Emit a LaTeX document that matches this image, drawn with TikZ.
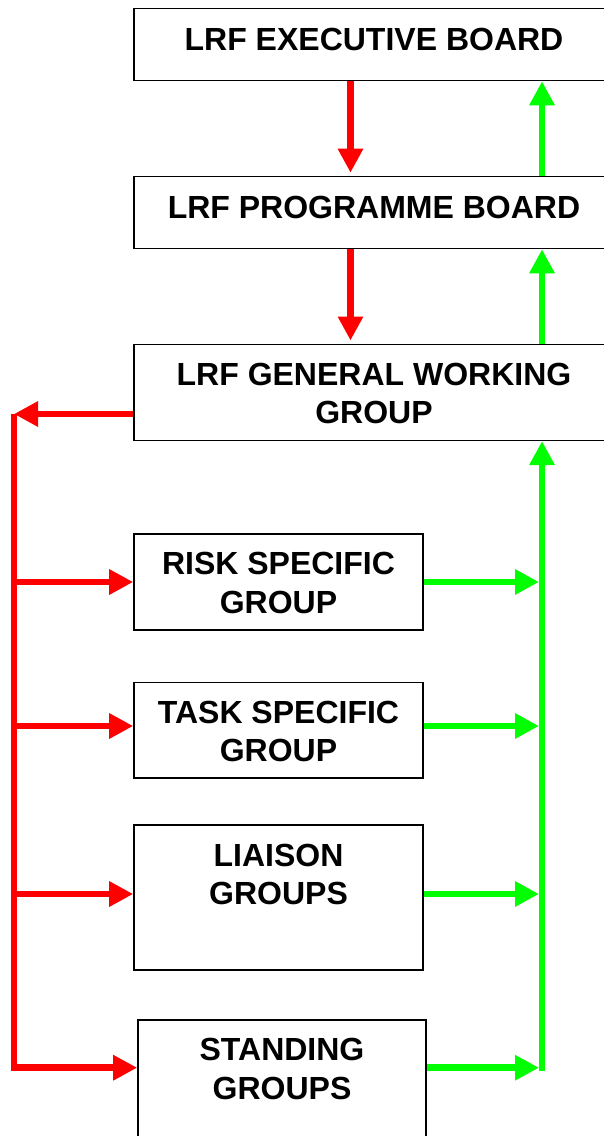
\documentclass[tikz,border=0pt]{standalone}
\usepackage{fontspec}
\setmainfont{Liberation Sans}
\usepackage{tikz}
\usetikzlibrary{arrows.meta, positioning}
\definecolor{downred}{RGB}{255,0,0}
\definecolor{upgreen}{RGB}{0,255,0}
\tikzset{>={Triangle[length=24pt,width=24pt]}}
\tikzset{
	box/.style={draw, line width=1.6pt, inner sep=0pt},
	txt/.style={font=\bfseries\fontsize{32}{38.5}\selectfont, align=center, inner sep=0pt},
	down/.style={color=downred, line width=6.5pt},
	up/.style={color=upgreen, line width=6.5pt}
}

\begin{document}
\begin{tikzpicture}[x=1pt, y=-1pt]

		\useasboundingbox (0,0) rectangle (604,1136);
		\clip (0,0) rectangle (604,1136);

		\node[box, minimum width=480pt, minimum height=72pt] (EB) at (374,44.5) {};
		\node[box, minimum width=480pt, minimum height=72pt] (PB) at (374,212.5) {};
		\node[box, minimum width=480pt, minimum height=96pt] (GW) at (374,392.3) {};
		\node[box, minimum width=289pt, minimum height=96pt] (RS) at (278.5,582) {};
		\node[box, minimum width=289pt, minimum height=95.4pt] (TS) at (278.5,730) {};
		\node[box, minimum width=289pt, minimum height=144.7pt] (LG) at (278.5,897.6) {};
		\node[box, minimum width=288pt, minimum height=140pt] (SG) at (282,1090) {};

		\node[txt, below=20pt of EB.north] (EBt) {LRF EXECUTIVE BOARD};
		\node[txt, below=20pt of PB.north] (PBt) {LRF PROGRAMME BOARD};
		\node[txt, below=19pt of GW.north] (GWt) {LRF GENERAL WORKING\\GROUP};
		\node[txt, below=19pt of RS.north] (RSt) {RISK SPECIFIC\\GROUP};
		\node[txt, below=19pt of TS.north] (TSt) {TASK SPECIFIC\\GROUP};
		\node[txt, below=19pt of LG.north] (LGt) {LIAISON\\GROUPS};
		\node[txt, below=19pt of SG.north] (SGt) {STANDING\\GROUPS};

		\draw [down, ->, shorten >=3pt] ([xshift=-23.5pt]EB.south) -- ([xshift=-23.5pt]PB.north);
		\draw [up, ->] ([xshift=168pt]PB.north) -- ([xshift=168pt]EB.south);
		\draw [down, ->, shorten >=3pt] ([xshift=-23.5pt]PB.south) -- ([xshift=-23.5pt]GW.north);
		\draw [up, ->] ([xshift=168pt]GW.north) -- ([xshift=168pt]PB.south);

		\coordinate (RB) at (14,414);
		\coordinate (RE) at (14,1071);
		\coordinate (R1) at (14,582);
		\coordinate (R2) at (14,726);
		\coordinate (R3) at (14,894);
		\coordinate (R4) at (14,1067.7);
		\coordinate (GE) at (542,1071);
		\coordinate (G1) at (542,582);
		\coordinate (G2) at (542,726);
		\coordinate (G3) at (542,894);
		\coordinate (G4) at (542,1067.7);

		\draw [down, ->] (GW.west |- RB) -- (RB);
		\draw [down] (RB) -- (RE);
		\draw [down, ->] (R1) -- (R1 -| RS.west);
		\draw [down, ->] (R2) -- (R2 -| TS.west);
		\draw [down, ->] (R3) -- (R3 -| LG.west);
		\draw [down, ->] (R4) -- (R4 -| SG.west);

		\draw [up, ->] (GE) -- (GE |- GW.south);
		\draw [up, ->, shorten >=3pt] (RS.east |- G1) -- (G1);
		\draw [up, ->, shorten >=3pt] (TS.east |- G2) -- (G2);
		\draw [up, ->, shorten >=3pt] (LG.east |- G3) -- (G3);
		\draw [up, ->, shorten >=3pt] (SG.east |- G4) -- (G4);

\end{tikzpicture}
\end{document}
